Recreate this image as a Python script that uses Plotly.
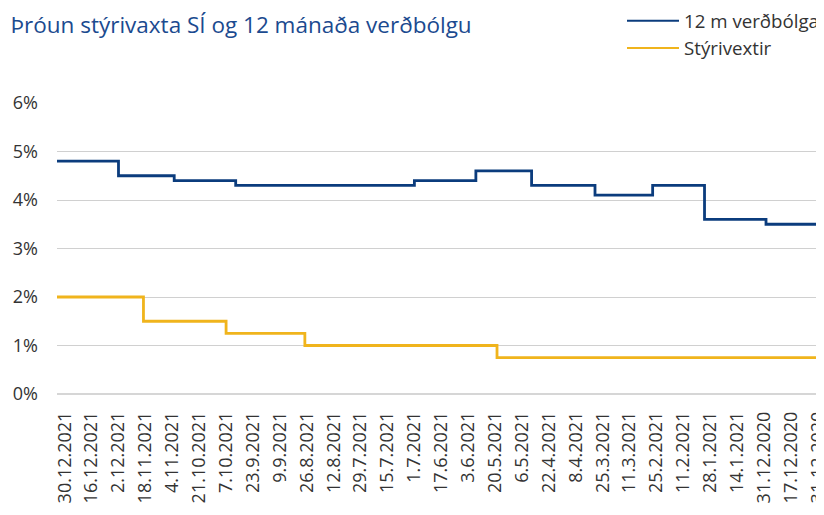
import datetime as dt
import plotly.graph_objects as go

# ---- data ----
tick_labels = ["30.12.2021", "16.12.2021", "2.12.2021", "18.11.2021", "4.11.2021",
               "21.10.2021", "7.10.2021", "23.9.2021", "9.9.2021", "26.8.2021",
               "12.8.2021", "29.7.2021", "15.7.2021", "1.7.2021", "17.6.2021",
               "3.6.2021", "20.5.2021", "6.5.2021", "22.4.2021", "8.4.2021",
               "25.3.2021", "11.3.2021", "25.2.2021", "11.2.2021", "28.1.2021",
               "14.1.2021", "31.12.2020", "17.12.2020", "31.12.2020"]

infl_dates = ["3.1.2022", "2.12.2021", "3.11.2021", "2.10.2021", "1.7.2021",
              "30.5.2021", "1.5.2021", "29.3.2021", "27.2.2021", "31.1.2021",
              "30.12.2020", "29.11.2020"]
infl_values = [4.8, 4.5, 4.4, 4.3, 4.4, 4.6, 4.3, 4.1, 4.3, 3.6, 3.5, 3.5]

rate_dates = ["3.1.2022", "19.11.2021", "7.10.2021", "27.8.2021", "19.5.2021",
              "29.11.2020"]
rate_values = [2.0, 1.5, 1.25, 1.0, 0.75, 0.75]

# ---- helpers ----
ref = dt.date(2021, 12, 30)


def days_back(s):
    d, m, y = (int(p) for p in s.split("."))
    return (ref - dt.date(y, m, d)).days


tick_step = 14
tick_vals = [i * tick_step for i in range(len(tick_labels))]

BLUE = "#0B3C7D"
YELLOW = "#F0B41C"
FONT = "Open Sans"
W, H = 816, 507  # page adds an 8px body margin

fig = go.Figure()
fig.add_trace(go.Scatter(
    x=[days_back(s) for s in infl_dates], y=infl_values,
    mode="lines", line=dict(color=BLUE, width=2.8, shape="hv"),
    name="12 m verðbólga", showlegend=False))
fig.add_trace(go.Scatter(
    x=[days_back(s) for s in rate_dates], y=rate_values,
    mode="lines", line=dict(color=YELLOW, width=2.8, shape="hv"),
    name="Stýrivextir", showlegend=False))
# legend entries (thinner sample lines, as in the original)
fig.add_trace(go.Scatter(x=[None], y=[None], mode="lines",
                         line=dict(color=BLUE, width=2), name="12 m verðbólga"))
fig.add_trace(go.Scatter(x=[None], y=[None], mode="lines",
                         line=dict(color=YELLOW, width=2), name="Stýrivextir"))

px_per_day = 26.9 / 14
left, top, bottom = 49, 95, 121
plot_w = W - left
plot_h = H - top - bottom
x0 = days_back(infl_dates[0])

fig.update_layout(
    width=W, height=H,
    margin=dict(l=left, r=0, t=top, b=bottom, autoexpand=False),
    paper_bgcolor="white", plot_bgcolor="white",
    font=dict(family=FONT, size=18, color="#333333"),
    title=dict(text="Þróun stýrivaxta SÍ og 12 mánaða verðbólgu",
               x=2.5 / W, xanchor="left", y=1 - 17 / H, yanchor="middle",
               font=dict(family=FONT, size=22.5, color="#1B4A8F")),
    showlegend=True,
    legend=dict(x=(614 - left) / plot_w, xanchor="left",
                y=1 + (top + 6) / plot_h, yanchor="top",
                font=dict(family=FONT, size=18.7, color="#333333"),
                bgcolor="rgba(0,0,0,0)", itemwidth=52, tracegroupgap=0),
    xaxis=dict(range=[x0, x0 + plot_w / px_per_day],
               tickmode="array", tickvals=tick_vals, ticktext=tick_labels,
               tickangle=-90, showgrid=False, zeroline=False, showline=False,
               ticks="", ticklabelstandoff=13, ticklabeloverflow="allow",
               tickfont=dict(family=FONT, size=18, color="#333333")),
    yaxis=dict(range=[0, 6], tickvals=[0, 1, 2, 3, 4, 5, 6],
               ticktext=["0%", "1%", "2%", "3%", "4%", "5%", "6%"],
               showgrid=True, gridcolor="#D0D0D0", gridwidth=1,
               zeroline=True, zerolinecolor="#D6D6D6", zerolinewidth=2,
               showline=False, ticks="", ticklabelstandoff=18,
               tickfont=dict(family=FONT, size=18, color="#333333")),
)

fig.write_html("out.html")
